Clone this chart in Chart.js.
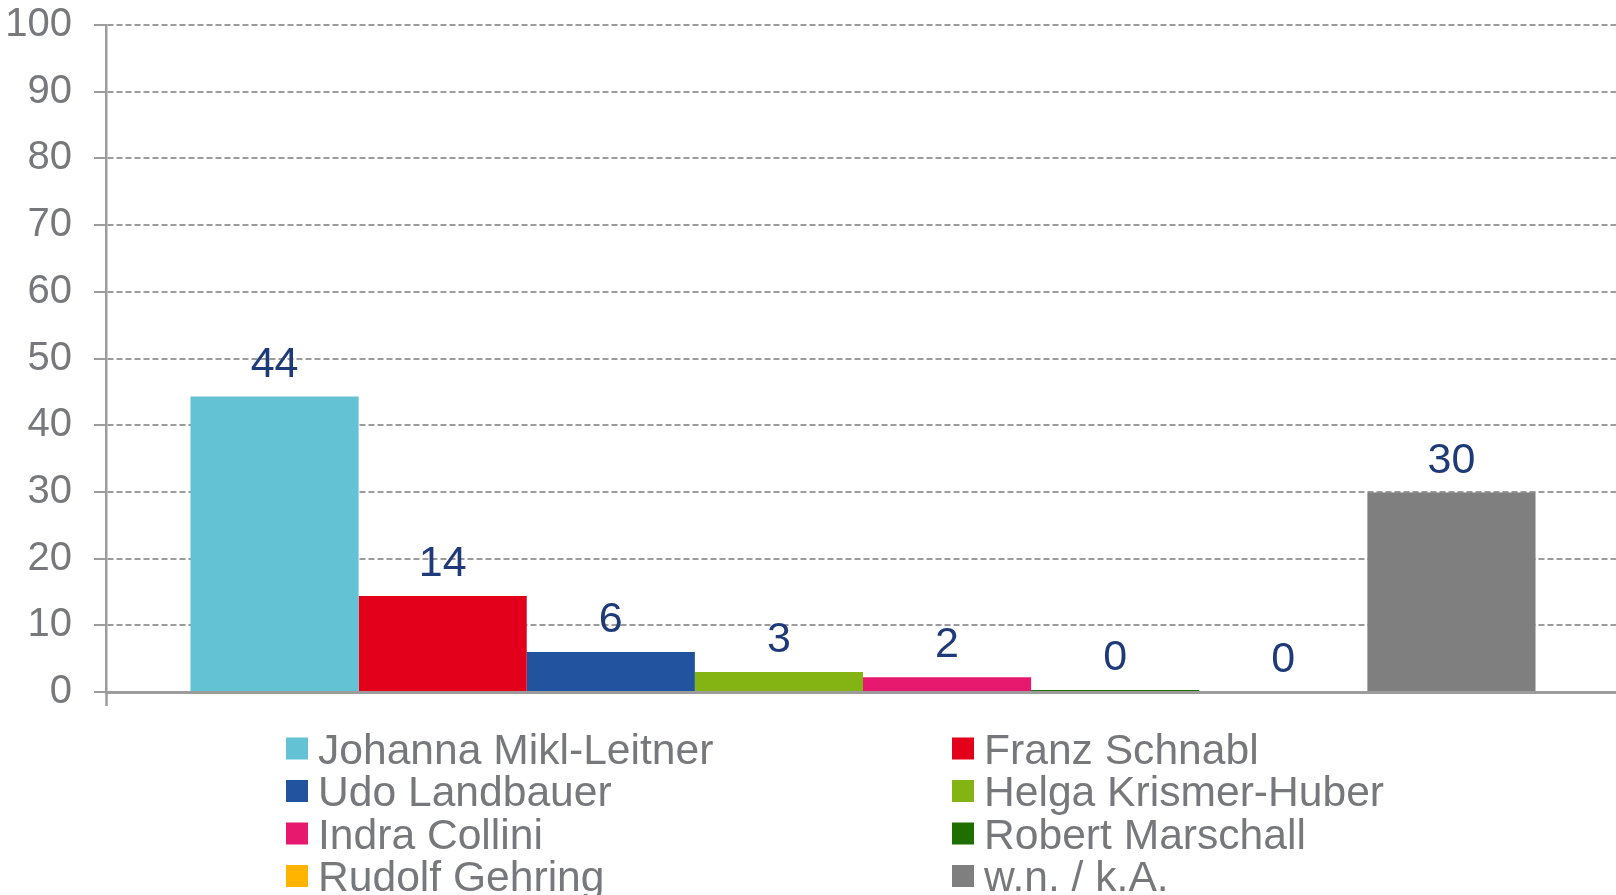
<!DOCTYPE html>
<html>
<head>
<meta charset="utf-8">
<title>Umfrage</title>
<script src="https://cdn.jsdelivr.net/npm/chart.js@4/dist/chart.umd.min.js"></script>
<style>
  html, body { margin: 0; padding: 0; background: #fff; overflow: hidden; }
  #chart { display: block; }
</style>
</head>
<body>
<canvas id="chart" width="1620" height="895"></canvas>
<script>
'use strict';

// one group of bars, one bar per candidate
const categories = [''];

const candidates = [
  'Johanna Mikl-Leitner',
  'Franz Schnabl',
  'Udo Landbauer',
  'Helga Krismer-Huber',
  'Indra Collini',
  'Robert Marschall',
  'Rudolf Gehring',
  'w.n. / k.A.'
];

const shares = [44.3, 14.4, 6.0, 3.0, 2.2, 0.3, 0, 29.9];

const barColors = ['#63c2d3', '#e2001a', '#22539f', '#84b414', '#e6196e', '#1e6e00', '#ffb400', '#7f7f7f'];

const yTicks = [0, 10, 20, 30, 40, 50, 60, 70, 80, 90, 100];

const fontFamily = "'Liberation Sans', Arial, sans-serif";
const grey = '#9c9c9c';
const textGrey = '#77787b';

let datasets = [];
for (let i = 0; i < candidates.length; i++) {
  datasets.push({
    label: candidates[i],
    data: [shares[i]],
    backgroundColor: barColors[i],
    borderWidth: 0
  });
}

// numbers over the bars
const valueLabels = {
  id: 'valueLabels',
  afterDatasetsDraw(chart) {
    let ctx = chart.ctx;
    ctx.save();
    ctx.font = '43px ' + fontFamily;
    ctx.fillStyle = '#1f3a78';
    ctx.textAlign = 'center';
    ctx.textBaseline = 'alphabetic';
    chart.data.datasets.forEach(function (ds, i) {
      let bar = chart.getDatasetMeta(i).data[0];
      ctx.fillText(String(Math.round(ds.data[0])), bar.x, bar.y - 20);
    });
    ctx.restore();
  }
};

// two column legend under the plot
const twoColLegend = {
  id: 'twoColLegend',
  afterDraw(chart) {
    let ctx = chart.ctx;
    let boxX = [286, 952];
    let textX = [318, 984];
    ctx.save();
    ctx.font = '42.6px ' + fontFamily;
    ctx.textAlign = 'left';
    ctx.textBaseline = 'alphabetic';
    chart.data.datasets.forEach(function (ds, i) {
      let col = i % 2;
      let row = Math.floor(i / 2);
      let cy = 748.5 + row * 42.5;
      ctx.fillStyle = ds.backgroundColor;
      ctx.fillRect(boxX[col], cy - 11, 22, 22);
      ctx.fillStyle = textGrey;
      ctx.fillText(ds.label, textX[col], cy + 15);
    });
    ctx.restore();
  }
};

new Chart(document.getElementById('chart'), {
  type: 'bar',
  data: {
    labels: categories,
    datasets: datasets
  },
  options: {
    responsive: false,
    animation: false,
    layout: { padding: { top: 25, right: 0, left: 0, bottom: 0 } },
    datasets: {
      bar: { categoryPercentage: 0.8884, barPercentage: 1 }
    },
    plugins: {
      legend: { display: false },
      tooltip: { enabled: false }
    },
    scales: {
      x: {
        ticks: { display: false },
        grid: {
          display: true,
          offset: true,
          drawOnChartArea: false,
          drawTicks: true,
          tickLength: 14,
          tickColor: grey,
          tickWidth: 2.5
        },
        border: { display: true, color: grey, width: 3 },
        afterFit(scale) {
          scale.height = 203;
          scale.paddingLeft = 0;
          scale.paddingRight = 0;
        }
      },
      y: {
        min: 0,
        max: 100,
        afterBuildTicks(scale) {
          scale.ticks = yTicks.map(function (v) { return { value: v }; });
        },
        ticks: {
          color: textGrey,
          padding: 22,
          font: { family: fontFamily, size: 40 }
        },
        grid: {
          color: grey,
          lineWidth: 2,
          tickLength: 12,
          tickColor: grey,
          tickWidth: 2,
          tickBorderDash: []
        },
        border: { display: true, color: grey, width: 2.5, dash: [6, 3] },
        afterFit(scale) {
          scale.width = 106;
          scale.paddingTop = 0;
          scale.paddingBottom = 0;
        }
      }
    }
  },
  plugins: [valueLabels, twoColLegend]
});
</script>
</body>
</html>
